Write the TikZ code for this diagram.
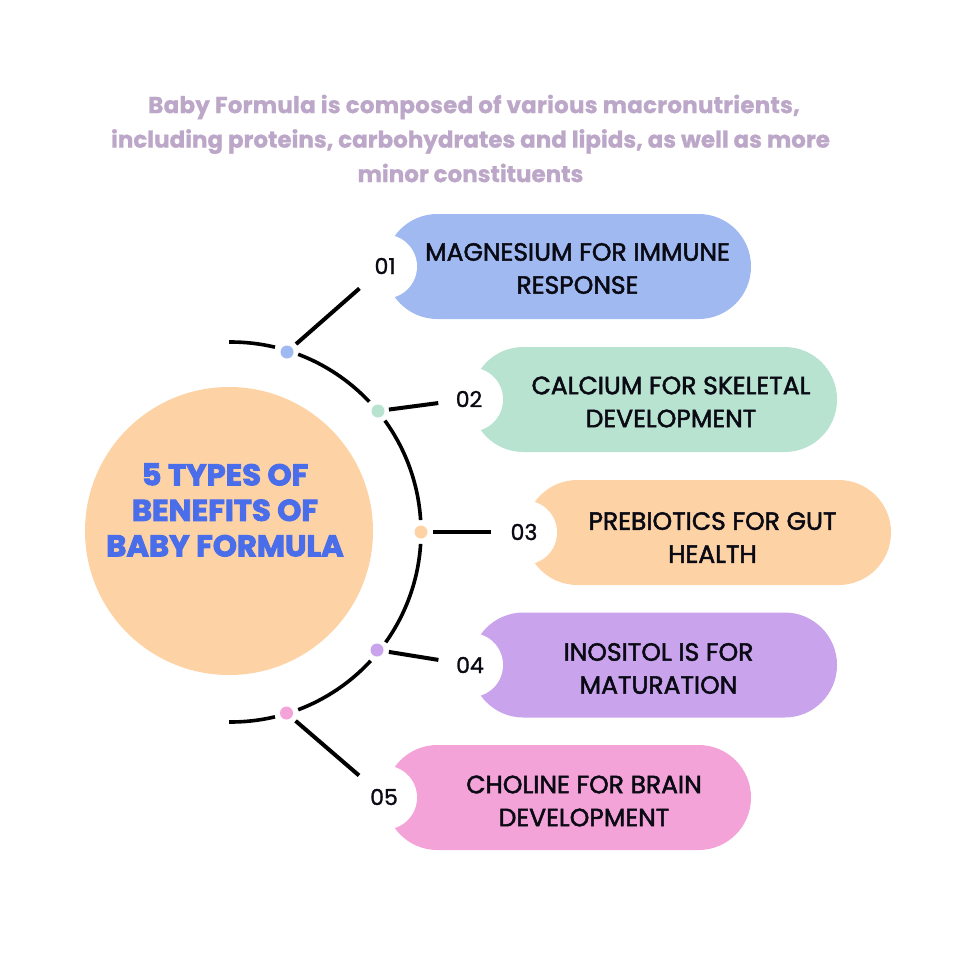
\documentclass[tikz,border=0pt]{standalone}
\usepackage{fontspec}
\setmainfont{Poppins}
\newfontfamily\labelfont[FakeStretch=1.0,FakeBold=2]{Poppins}
\newfontfamily\numfont[FakeStretch=1.0,FakeBold=1.3]{Poppins}
\newfontfamily\introfont[FakeBold=0.9]{Poppins}
\newfontfamily\centerfont[FakeStretch=1.02,FakeBold=3]{Poppins}
\definecolor{cblue}{HTML}{A0B9F0}
\definecolor{cgreen}{HTML}{B7E3D0}
\definecolor{corange}{HTML}{FDD3A6}
\definecolor{cpurple}{HTML}{C9A3EC}
\definecolor{cpink}{HTML}{F4A3D8}
\definecolor{cintro}{HTML}{BCA7C8}
\definecolor{ctitle}{HTML}{4A6DEA}
\definecolor{cink}{HTML}{0A0A14}
\tikzset{
  x=1pt,y=-1pt,
  arcline/.style={line width=3.6pt,black},
  linkline/.style={line width=4pt,black},
  pillshape/.style={rounded corners=52.4pt},
  notch/.style={circle,fill=white,minimum size=64pt,inner sep=0pt},
  dotn/.style={circle,minimum size=13pt,inner sep=0pt},
  numlabel/.style={font=\numfont\fontsize{22}{22}\selectfont,text=cink,inner sep=0pt},
  pilllabel/.style={font=\labelfont\fontsize{25}{33}\selectfont,text=cink,align=center,inner sep=0pt},
  introtext/.style={font=\introfont\fontsize{23}{34.5}\selectfont\bfseries,text=cintro,align=center,inner sep=0pt},
  titletext/.style={font=\centerfont\fontsize{30}{35.5}\selectfont\bfseries,text=ctitle,align=center,inner sep=0pt},
}
\begin{document}
\begin{tikzpicture}
\useasboundingbox (0,0) rectangle (960,960);
\fill[white] (0,0) rectangle (960,960);
% intro
\node[introtext] (intro) at (470.5,138.5) {\hspace*{7pt}{\addfontfeature{LetterSpace=1}Baby Formula is composed of various macronutrients,}\\including proteins, carbohydrates and lipids, as well as more\\minor constituents};
% circle
\node[circle,fill=corange,minimum size=288pt,inner sep=0pt] (hub) at (229,531) {};
\node[titletext] (title) at (225,510) {5 TYPES OF\\BENEFITS OF\\BABY FORMULA};
% pills
\fill[cblue,pillshape] (385,214) rectangle (751,319);
\fill[cgreen,pillshape] (471,347) rectangle (837,452);
\fill[corange,pillshape] (525,480) rectangle (891,585);
\fill[cpurple,pillshape] (471,612.5) rectangle (837,717.5);
\fill[cpink,pillshape] (385,745) rectangle (751,850);
\node[notch] (h1) at (385,266.5) {};
\node[notch] (h2) at (471,399.5) {};
\node[notch] (h3) at (525,532.5) {};
\node[notch] (h4) at (471,665) {};
\node[notch] (h5) at (385,797.5) {};
\node[numlabel] (n1) at (385,266) {01};
\node[numlabel] (n2) at (469,399) {02};
\node[numlabel] (n3) at (524,532) {03};
\node[numlabel] (n4) at (470,665) {04};
\node[numlabel] (n5) at (384,797) {05};
\node[pilllabel] (t1) at (577.5,268.5) {MAGNESIUM FOR IMMUNE\\RESPONSE};
\node[pilllabel] (t2) at (671,402) {CALCIUM FOR SKELETAL\\DEVELOPMENT};
\node[pilllabel] (t3) at (712.5,537.5) {PREBIOTICS FOR GUT\\HEALTH};
\node[pilllabel] (t4) at (658.5,668.5) {INOSITOL IS FOR\\MATURATION};
\node[pilllabel] (t5) at (584,801) {CHOLINE FOR BRAIN\\DEVELOPMENT};
% dots
\node[dotn,fill=cblue] (d1) at (287,352) {};
\node[dotn,fill=cgreen] (d2) at (378,411) {};
\node[dotn,fill=corange] (d3) at (421,532) {};
\node[dotn,fill=cpurple] (d4) at (377,650) {};
\node[dotn,fill=cpink] (d5) at (286.5,713) {};
% arc segments around the common centre
\coordinate (arcc) at (231,532);
\foreach \a/\b in {-90.6/-76.6,-69.3/-43.3,-35.9/-3.6,3.6/35.5,42.7/69.3,76.6/90.6}{
  \draw[arcline] (arcc) ++(\a:190) arc[start angle=\a,end angle=\b,radius=190];
}
% connectors
\draw[linkline,shorten <=12pt,shorten >=34pt] (d1.center) -- (n1.center);
\draw[linkline,shorten <=11pt,shorten >=31pt] (d2.center) -- (n2.center);
\draw[linkline,shorten <=12pt,shorten >=33pt] (d3.center) -- (n3.center);
\draw[linkline,shorten <=12pt,shorten >=32pt] (d4.center) -- (n4.center);
\draw[linkline,shorten <=12pt,shorten >=33pt] (d5.center) -- (n5.center);
\end{tikzpicture}
\end{document}
